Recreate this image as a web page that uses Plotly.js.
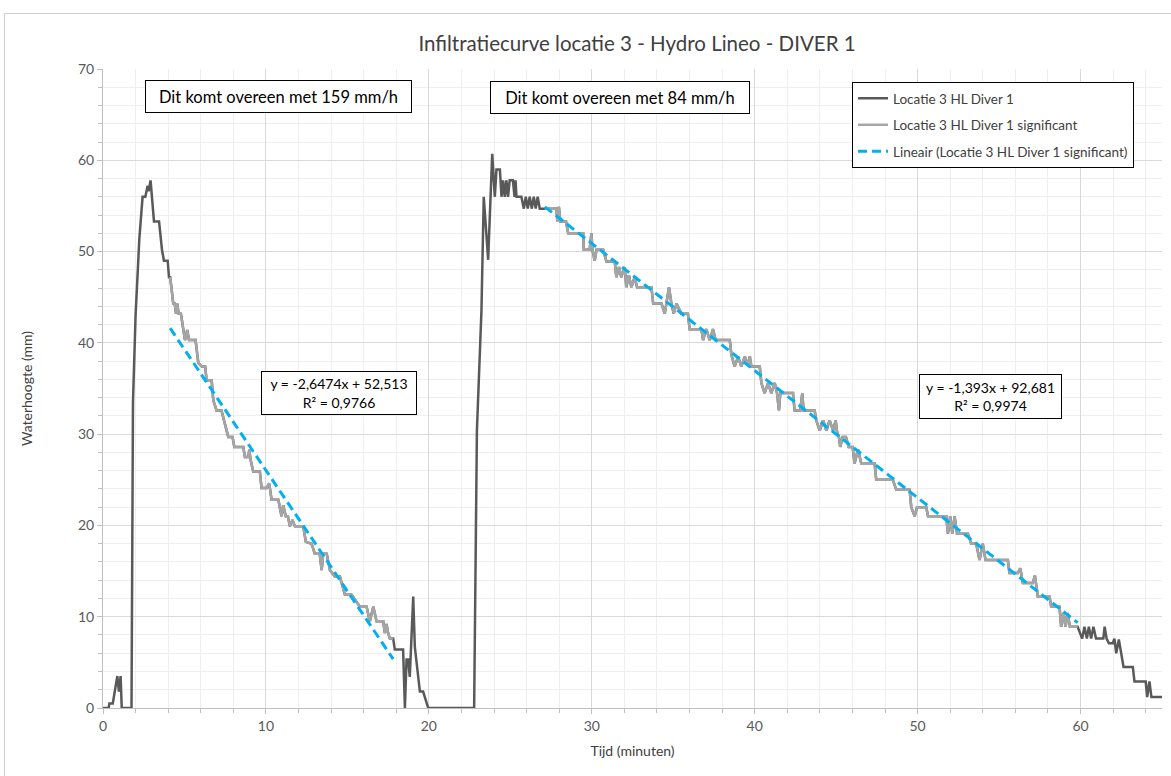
<!DOCTYPE html>
<html>
<head>
<meta charset="utf-8">
<script src="https://cdn.plot.ly/plotly-3.0.1.min.js"></script>
<style>
  html, body { margin: 0; padding: 0; background: #ffffff; overflow: hidden; }
  #chart { width: 1171px; height: 776px; }
  #frame { position: absolute; left: 4px; top: 13px; width: 1300px; height: 1000px;
           border: 1px solid #cfcfcf; pointer-events: none; }
</style>
</head>
<body>
<div id="chart"></div>
<div id="frame"></div>
<script>
// Time since start (minutes) and water height (mm) from DIVER 1
const tijd = [
  0, 0.35, 0.39, 0.6, 0.88, 0.98, 1.08, 1.15, 1.75, 1.84, 2.0, 2.23, 2.43, 2.6, 2.74, 2.8, 2.92,
  3.13, 3.44, 3.62, 3.74, 3.97, 4.05, 4.12, 4.2, 4.31, 4.4, 4.48, 4.56, 4.64, 4.78, 4.89,
  5.03, 5.17, 5.28, 5.68, 5.85, 6.07, 6.27, 6.36, 6.67, 6.77, 6.97, 7.27, 7.42, 7.69, 7.95,
  8.06, 8.61, 8.71, 8.92, 8.98, 9.06, 9.22, 9.63, 9.73, 10.04, 10.2, 10.35, 10.76, 10.96,
  11.06, 11.22, 11.35, 11.47, 11.63, 11.78, 12.29, 12.45, 12.8, 13.0, 13.3, 13.42, 13.52,
  13.73, 13.93, 14.23, 14.54, 14.85, 15.26, 15.77, 16.18, 16.38, 16.59, 16.79, 17.2, 17.3,
  17.4, 17.5, 17.61, 17.81, 17.91, 18.42, 18.53, 18.63, 18.73, 18.83, 19.04, 19.14, 19.45,
  19.65, 19.86, 19.96, 22.78, 22.95, 23.23, 23.37, 23.64, 23.89, 24.05, 24.15, 24.36, 24.46,
  24.56, 24.66, 24.76, 24.86, 24.96, 25.16, 25.26, 25.32, 25.38, 25.68, 25.83, 25.95, 26.07,
  26.19, 26.32, 26.44, 26.56, 26.68, 26.81, 27.12, 27.83, 27.89, 27.98, 28.07, 28.42, 28.55,
  29.47, 29.51, 29.87, 29.98, 30.04, 30.18, 30.29, 30.7, 30.9, 31.41, 31.51, 31.67, 31.81,
  32.02, 32.12, 32.28, 32.43, 32.63, 32.78, 33.66, 33.77, 34.28, 34.48, 34.74, 34.89, 35.03,
  35.2, 35.5, 35.9, 36.01, 36.73, 36.83, 37.03, 37.24, 37.44, 37.6, 38.47, 38.57, 38.77,
  38.98, 39.18, 39.39, 39.59, 39.7, 39.8, 40.31, 40.41, 40.61, 40.82, 41.02, 41.23, 41.37,
  41.49, 41.57, 42.35, 42.45, 42.8, 42.92, 43.0, 43.68, 43.78, 43.99, 44.2, 44.4, 44.6,
  44.81, 44.97, 45.05, 45.17, 45.25, 45.4, 45.6, 45.77, 46.01, 46.13, 46.34, 46.54, 47.36,
  47.46, 48.48, 48.69, 49.51, 49.61, 49.82, 49.96, 50.53, 50.64, 51.76, 51.86, 52.0, 52.13,
  52.27, 52.42, 53.09, 53.29, 53.6, 53.8, 54.0, 54.17, 55.54, 55.64, 56.15, 56.3, 56.46,
  57.07, 57.2, 57.38, 58.1, 58.2, 58.71, 58.81, 58.95, 59.08, 59.2, 59.35, 59.82, 60.1,
  60.24, 60.39, 60.51, 60.65, 60.79, 60.95, 61.4, 61.48, 61.6, 61.74, 61.98, 62.08, 62.19,
  62.35, 62.64, 63.21, 63.31, 64.0, 64.09, 64.23, 64.35, 65.0
];
const hoogte = [
  0, 0, 0.5, 0.5, 3.5, 1.8, 3.5, 0, 0, 33.5, 43.0, 51.4, 56.0, 56.0, 57.2, 56.6, 57.8,
  53.3, 53.3, 50.2, 49.0, 49.0, 47.2, 47.2, 46.1, 44.3, 44.3, 43.2, 44.3, 43.2, 43.2, 42.1,
  40.3, 41.4, 40.3, 40.3, 37.8, 37.4, 37.4, 35.9, 35.9, 33.7, 32.6, 32.6, 31.5, 29.7, 29.7,
  28.6, 28.6, 27.5, 27.5, 28.3, 27.2, 25.9, 25.9, 24.1, 24.1, 24.6, 22.8, 22.8, 21.0,
  22.2, 21.0, 21.0, 19.9, 20.6, 19.9, 19.9, 18.2, 18.0, 16.9, 16.9, 15.1, 16.9,
  16.9, 15.1, 14.4, 14.4, 12.4, 12.4, 11.1, 11.1, 9.5, 11.1, 9.5, 9.5, 8.2,
  9.2, 8.2, 7.6, 7.6, 6.4, 6.4, 0, 5.3, 5.3, 3.4, 12.2, 6.7, 1.8,
  1.8, 0.5, 0, 0, 30.4, 43.6, 56.0, 49.1, 60.7, 56.0, 59.0, 59.0, 56.0,
  57.8, 56.0, 57.8, 56.0, 57.8, 57.8, 56.0, 57.8, 56.0, 56.0, 54.7, 56.0, 54.7,
  56.0, 54.7, 56.0, 54.7, 56.0, 54.7, 54.7, 54.7, 53.3, 54.9, 53.3, 53.3, 52.0,
  52.0, 50.2, 50.2, 52.0, 50.2, 49.0, 50.2, 50.2, 48.9, 48.9, 47.2, 48.3, 47.2,
  48.3, 46.1, 47.4, 46.1, 47.2, 46.1, 46.1, 44.3, 44.3, 43.2, 46.1, 44.3, 43.2,
  44.3, 43.2, 43.2, 41.5, 41.5, 40.3, 41.5, 40.3, 41.5, 40.3, 40.3, 38.7, 37.4,
  38.5, 37.4, 38.5, 37.6, 38.5, 37.4, 37.4, 35.6, 34.5, 35.6, 34.5, 35.6, 34.5,
  32.6, 34.5, 34.5, 32.6, 32.6, 34.5, 32.6, 32.6, 31.5, 30.4, 31.5, 30.4, 31.5,
  30.4, 31.5, 30.3, 29.7, 28.6, 29.7, 29.7, 28.6, 28.6, 26.8, 28.3, 26.8, 26.8,
  25.0, 25.0, 23.9, 23.9, 22.0, 21.0, 22.0, 22.0, 21.0, 21.0, 19.1, 21.0, 19.1,
  21.0, 19.1, 19.1, 18.0, 18.0, 16.2, 18.0, 16.2, 16.2, 14.8, 14.8, 15.3, 13.7,
  13.7, 14.5, 12.2, 12.2, 11.1, 11.1, 8.9, 10.4, 8.9, 10.4, 8.9, 8.9, 7.6,
  8.9, 7.6, 8.9, 7.6, 8.9, 7.6, 7.6, 8.9, 7.6, 7.1, 7.1, 7.6, 6.0,
  7.5, 4.5, 4.5, 2.9, 2.9, 1.2, 2.9, 1.2, 1.2
];

// Time windows (minutes) of the significant infiltration phases
const significantStart = [4.12, 27.12];
const significantEnd = [17.81, 59.82];

// Linear fits per phase
const trendSlope = [-2.6474, -1.393];
const trendIntercept = [52.513, 92.681];
const trendLabels = ['y = -2,6474x + 52,513<br>R² = 0,9766', 'y = -1,393x + 92,681<br>R² = 0,9974'];
const rateLabels = ['Dit komt overeen met 159 mm/h', 'Dit komt overeen met 84 mm/h'];

const seriesNames = ['Locatie 3 HL Diver 1', 'Locatie 3 HL Diver 1 significant',
                     'Lineair (Locatie 3 HL Diver 1 significant)'];

// significant subset, with a break between the phases
const sigX = [], sigY = [];
significantStart.forEach((s, k) => {
  if (k > 0) { sigX.push(null); sigY.push(null); }
  tijd.forEach((t, i) => {
    if (t >= s && t <= significantEnd[k]) { sigX.push(t); sigY.push(hoogte[i]); }
  });
});

const traces = [
  { x: tijd, y: hoogte, type: 'scatter', mode: 'lines', name: seriesNames[0],
    legendgroup: 'a', line: { color: '#595959', width: 2.5 } },
  { x: sigX, y: sigY, type: 'scatter', mode: 'lines', name: seriesNames[1],
    legendgroup: 'b', connectgaps: false, line: { color: '#a5a5a5', width: 2.5 } }
];

significantStart.forEach((s, k) => {
  const x0 = s, x1 = significantEnd[k];
  traces.push({
    x: [x0, x1],
    y: [trendSlope[k] * x0 + trendIntercept[k], trendSlope[k] * x1 + trendIntercept[k]],
    type: 'scatter', mode: 'lines', name: seriesNames[2], legendgroup: 'c',
    showlegend: k === 0,
    line: { color: '#00b0f0', width: 3, dash: '9px,5px' }
  });
});

const FAMILY = 'Lato, "Open Sans", sans-serif';
const boxFont = { family: FAMILY, size: 16.5, color: '#000000' };
const eqFont = { family: FAMILY, size: 14, color: '#000000' };

const annotations = [
  { x: 10.8, y: 67.03, text: rateLabels[0], width: 265, height: 31, font: boxFont },
  { x: 31.75, y: 66.92, text: rateLabels[1], width: 258, height: 31, font: boxFont },
  { x: 14.51, y: 34.56, text: trendLabels[0], width: 154, height: 42, font: eqFont },
  { x: 54.48, y: 34.17, text: trendLabels[1], width: 141, height: 43, font: eqFont }
].map(a => Object.assign({
  xref: 'x', yref: 'y', showarrow: false, xanchor: 'center', yanchor: 'middle',
  bgcolor: '#ffffff', bordercolor: '#000000', borderwidth: 1, borderpad: 0, align: 'center'
}, a));

const axisCommon = {
  showgrid: true, gridcolor: '#d9d9d9', gridwidth: 1,
  zeroline: false, showline: true, linecolor: '#bfbfbf', linewidth: 1,
  ticks: 'outside', ticklen: 5, tickcolor: '#bfbfbf',
  tickfont: { family: FAMILY, size: 14, color: '#595959' },
  minor: { dtick: 2, showgrid: true, gridcolor: '#efefef', gridwidth: 1,
           ticks: 'outside', ticklen: 4, tickcolor: '#bfbfbf' }
};

const layout = {
  width: 1171, height: 776,
  margin: { l: 103, r: 9, t: 69, b: 68 },
  paper_bgcolor: '#ffffff', plot_bgcolor: '#ffffff',
  font: { family: FAMILY, color: '#404040' },
  title: { text: 'Infiltratiecurve locatie 3 - Hydro Lineo - DIVER 1',
           font: { family: FAMILY, size: 20.5, color: '#404040' },
           x: 0.544, xanchor: 'center', y: 0.944, yanchor: 'middle' },
  xaxis: Object.assign({}, axisCommon, {
    range: [0, 65], tick0: 0, dtick: 10,
    title: { text: 'Tijd (minuten)', standoff: 13,
             font: { family: FAMILY, size: 14, color: '#404040' } }
  }),
  yaxis: Object.assign({}, axisCommon, {
    range: [0, 70], tick0: 0, dtick: 10,
    title: { text: 'Waterhoogte (mm)', standoff: 42,
             font: { family: FAMILY, size: 14, color: '#404040' } }
  }),
  showlegend: true,
  legend: {
    x: 0.7073, y: 0.9797, xanchor: 'left', yanchor: 'top',
    bgcolor: '#ffffff', bordercolor: '#000000', borderwidth: 1,
    traceorder: 'grouped', tracegroupgap: 6,
    font: { family: FAMILY, size: 13.5, color: '#404040' }
  },
  annotations: annotations
};

Plotly.newPlot('chart', traces, layout, { displayModeBar: false, staticPlot: true });
</script>
</body>
</html>
